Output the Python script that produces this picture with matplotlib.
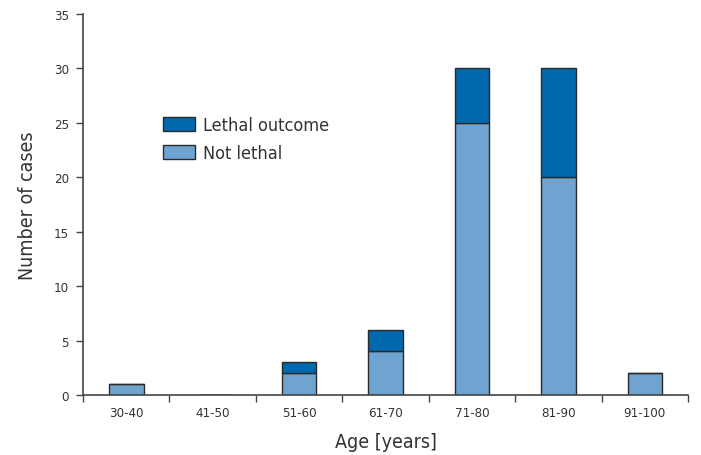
"""Stacked bar chart: cases by age group, lethal vs not lethal."""

import matplotlib
matplotlib.use("Agg")
import matplotlib.pyplot as plt
import numpy as np

AGE_GROUPS = ["30-40", "41-50", "51-60", "61-70", "71-80", "81-90", "91-100"]
NOT_LETHAL = [1, 0, 2, 4, 25, 20, 2]
LETHAL = [0, 0, 1, 2, 5, 10, 0]

LETHAL_COLOR = "#0068AC"
NOT_LETHAL_COLOR = "#6FA4D1"
EDGE = "#2a2a2a"
TEXT = "#333333"

plt.rcParams["font.family"] = ["DejaVu Sans"]
plt.rcParams["font.stretch"] = "condensed"


def main() -> None:
    fig = plt.figure(figsize=(7.01, 4.56), dpi=100)
    ax = fig.add_axes([83 / 701, 60 / 456, 605 / 701, 381 / 456])

    x = np.arange(len(AGE_GROUPS))
    ax.bar(x, NOT_LETHAL, width=0.4, color=NOT_LETHAL_COLOR, edgecolor=EDGE,
           linewidth=1, label="Not lethal", zorder=2)
    ax.bar(x, LETHAL, width=0.4, bottom=NOT_LETHAL, color=LETHAL_COLOR,
           edgecolor=EDGE, linewidth=1, label="Lethal outcome", zorder=2)

    ax.set_xlim(-0.5, len(AGE_GROUPS) - 0.5)
    ax.set_ylim(0, 35)
    ax.set_yticks(range(0, 36, 5))

    # tick marks on group boundaries, labels in the middle
    ax.set_xticks(np.arange(-0.5, len(AGE_GROUPS), 1.0))
    ax.set_xticklabels([])
    ax.set_xticks(x, minor=True)
    ax.set_xticklabels(AGE_GROUPS, minor=True)
    ax.tick_params(axis="x", which="minor", length=0, pad=8,
                   labelsize=9.5, labelcolor=TEXT)
    ax.tick_params(axis="x", which="major", length=5, width=1, color="#444444")
    ax.tick_params(axis="y", length=5, width=1, color="#444444",
                   labelsize=9.5, labelcolor=TEXT, pad=5)

    for side in ("top", "right"):
        ax.spines[side].set_visible(False)
    for side in ("left", "bottom"):
        ax.spines[side].set_color("#444444")
        ax.spines[side].set_linewidth(1.2)

    ax.set_xlabel("Age [years]", fontsize=14, color=TEXT, labelpad=9)
    ax.set_ylabel("Number of cases", fontsize=14, color=TEXT, labelpad=12)

    handles, labels = ax.get_legend_handles_labels()
    ax.legend(handles[::-1], labels[::-1], loc="upper left",
              bbox_to_anchor=(0.117, 0.755), frameon=False, fontsize=13,
              handlelength=1.8, handleheight=0.75, handletextpad=0.4,
              labelspacing=0.55, borderpad=0, labelcolor=TEXT)

    fig.savefig("out.png", dpi=100)
    plt.close(fig)


if __name__ == "__main__":
    main()
